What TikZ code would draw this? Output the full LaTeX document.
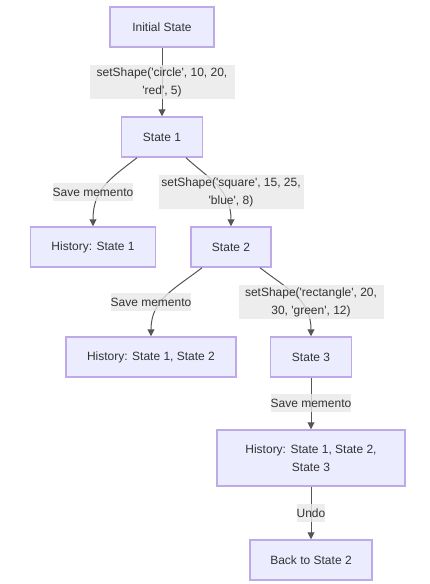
\documentclass[tikz,border=0pt]{standalone}
\usepackage{fontspec}
\newfontfamily\mmfont{Liberation Sans}
\usetikzlibrary{arrows.meta}
\definecolor{boxfill}{HTML}{ECECFF}
\definecolor{boxline}{HTML}{BEA9E9}
\definecolor{lblfill}{HTML}{E8E8E8}
\definecolor{ink}{HTML}{333333}
\definecolor{wire}{HTML}{555555}
\begin{document}
\begin{tikzpicture}[x=1pt, y=-1pt,
  state/.style={draw=boxline, fill=boxfill, text=ink, line width=1.5pt, inner sep=0pt,
    minimum height=40pt, align=center, font=\mmfont\fontsize{12}{18}\selectfont},
  lbl/.style={fill=lblfill, fill opacity=0.8, text opacity=1, text=ink, inner sep=0pt,
    minimum height=18pt, align=center, font=\mmfont\fontsize{12}{18}\selectfont},
  flow/.style={draw=wire, line width=1pt, -{Triangle[length=7pt, width=7pt]}}]
\useasboundingbox (0,0) rectangle (429,584);
% states
\node[state, minimum width=104pt] (init) at (162,27) {Initial State};
\node[state, minimum width=81pt] (s1) at (162,137) {State 1};
\node[state, minimum width=125pt] (h1) at (93,247) {History: State 1};
\node[state, minimum width=80pt] (s2) at (231,247) {State 2};
\node[state, minimum width=170pt] (h2) at (151,357) {History: State 1, State 2};
\node[state, minimum width=81pt] (s3) at (311,357) {State 3};
\node[state, minimum width=188pt, minimum height=56pt] (h3) at (311,458) {History: State 1, State 2,\\State 3};
\node[state, minimum width=122pt] (back) at (311,560) {Back to State 2};
% connectors
\draw[flow] (init) -- (s1);
\draw[flow] ([xshift=-25pt]s1.south) .. controls +(-27,21) and +(0,-37) .. (h1.north);
\draw[flow] ([xshift=24pt]s1.south) .. controls +(23,21) and +(0,-37) .. (s2.north);
\draw[flow] ([xshift=-29pt]s2.south) .. controls +(-27,21) and +(0,-37) .. (h2.north);
\draw[flow] ([xshift=29pt]s2.south) .. controls +(27,21) and +(0,-37) .. (s3.north);
\draw[flow] (s3) -- (h3);
\draw[flow] (h3) -- (back);
% labels
\node[lbl, minimum width=145pt, minimum height=34pt] (l1) at (162,82) {setShape('circle', 10, 20,\\'red', 5)};
\node[lbl] (l2) at (93,192) {Save memento};
\node[lbl, minimum width=145pt, minimum height=34pt] (l3) at (231,192) {setShape('square', 15, 25,\\'blue', 8)};
\node[lbl] (l4) at (151,302) {Save memento};
\node[lbl, minimum width=145pt, minimum height=34pt] (l5) at (311,302) {setShape('rectangle', 20,\\30, 'green', 12)};
\node[lbl] (l6) at (311,403) {Save memento};
\node[lbl] (l7) at (311,513) {Undo};
\end{tikzpicture}
\end{document}
